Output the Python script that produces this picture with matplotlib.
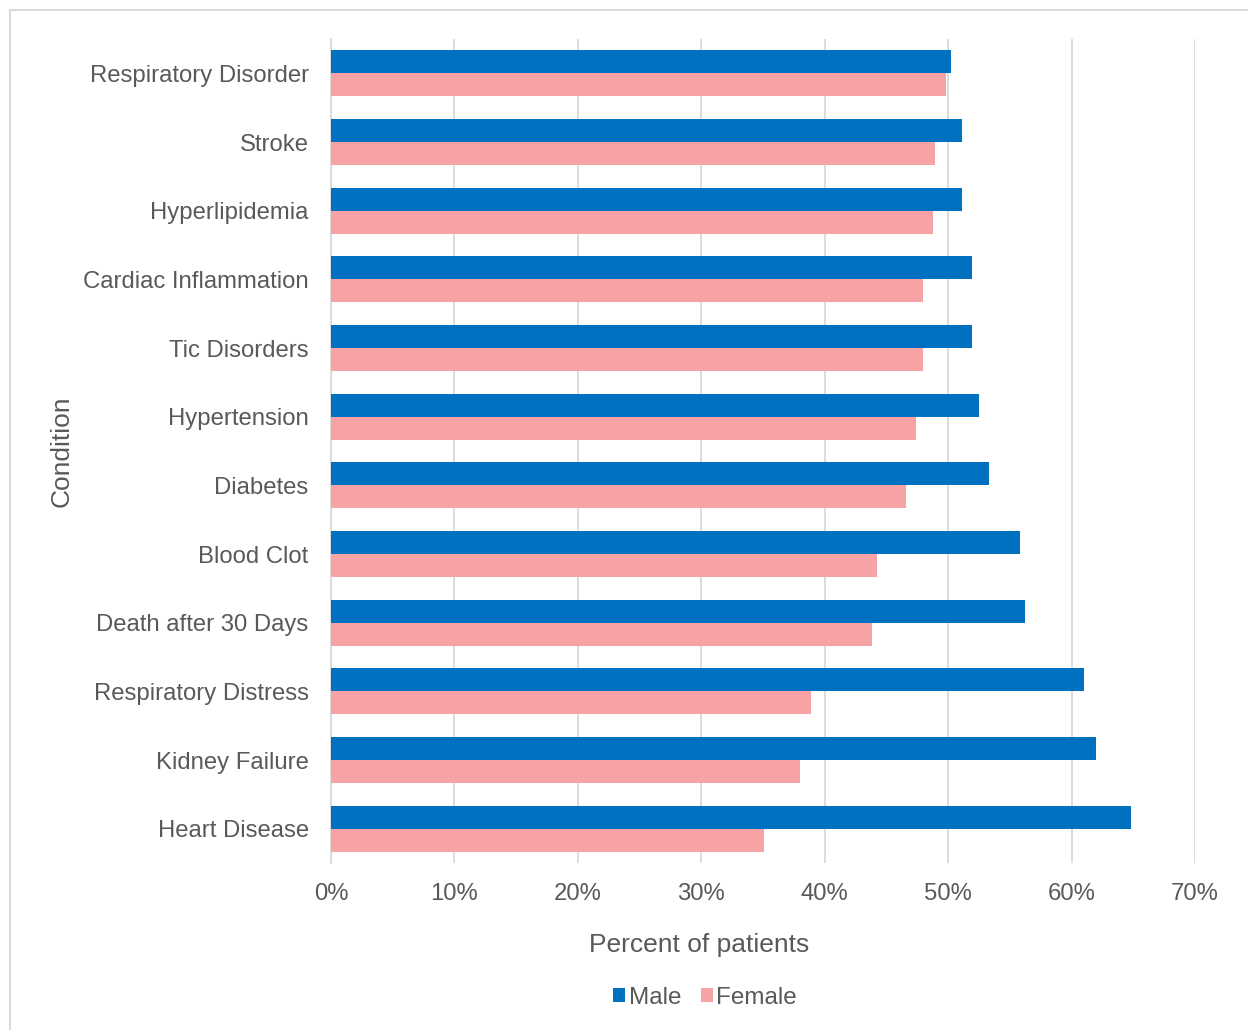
import numpy as np
import matplotlib.pyplot as plt
from matplotlib.patches import Rectangle

plt.rcParams['font.family'] = ['Liberation Sans', 'DejaVu Sans']

conditions = ['Respiratory Disorder', 'Stroke', 'Hyperlipidemia', 'Cardiac Inflammation',
              'Tic Disorders', 'Hypertension', 'Diabetes', 'Blood Clot',
              'Death after 30 Days', 'Respiratory Distress', 'Kidney Failure', 'Heart Disease']
male = [50.2, 51.1, 51.1, 51.9, 51.9, 52.5, 53.3, 55.8, 56.2, 61.0, 62.0, 64.8]
female = [49.8, 48.9, 48.8, 48.0, 48.0, 47.4, 46.6, 44.2, 43.8, 38.9, 38.0, 35.1]
xticks = [0, 10, 20, 30, 40, 50, 60, 70]

blue = '#0070c0'
pink = '#f7a3a6'
text_col = '#595959'
grid_col = '#d9d9d9'

fig = plt.figure(figsize=(12.48, 10.30), dpi=100)
# chart-area border
fig.patches.append(Rectangle((10 / 1248, -0.01), 1.1, 1 - 9.5 / 1030 + 0.01,
                             transform=fig.transFigure, fill=False,
                             edgecolor=grid_col, lw=1.5))

ax = fig.add_axes([0.2652, 0.162, 0.6923, 0.8001])

y = np.arange(len(conditions))
h = 0.335
ax.barh(y - h / 2, male, height=h, color=blue, label='Male', zorder=3)
ax.barh(y + h / 2, female, height=h, color=pink, label='Female', zorder=3)

ax.set_ylim(len(conditions) - 0.5, -0.5)
ax.set_xlim(0, 70)
ax.set_xticks(xticks)
ax.set_xticklabels([f'{v}%' for v in xticks])
ax.set_yticks(y)
ax.set_yticklabels(conditions)

ax.grid(axis='x', color=grid_col, lw=1.3, zorder=0)
for s in ['top', 'right', 'bottom']:
    ax.spines[s].set_visible(False)
ax.spines['left'].set_color(grid_col)
ax.spines['left'].set_linewidth(1.3)
ax.tick_params(axis='both', length=0, labelsize=17.2, labelcolor=text_col)
ax.tick_params(axis='x', pad=14)
ax.tick_params(axis='y', pad=16)

fig.text(699 / 1248, 1 - 945 / 1030, 'Percent of patients', fontsize=19,
         color=text_col, ha='center', va='center')
fig.text(62 / 1248, 1 - 451 / 1030, 'Condition', rotation=90, fontsize=19,
         color=text_col, ha='center', va='center')

fig.legend(loc='center', bbox_to_anchor=(705 / 1248, 1 - 998 / 1030), ncol=2,
           frameon=False, fontsize=17.5, labelcolor=text_col,
           handlelength=0.5, handleheight=0.5, handletextpad=0.15, columnspacing=0.8)

fig.savefig('out.png', dpi=100)
